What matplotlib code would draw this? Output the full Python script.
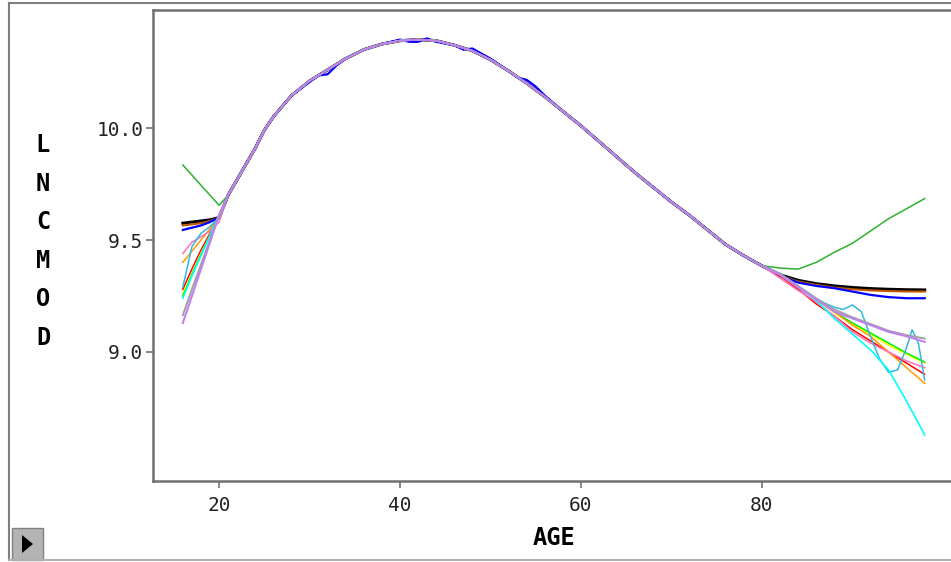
import matplotlib
matplotlib.use("Agg")
import matplotlib.pyplot as plt
from matplotlib.lines import Line2D
from matplotlib.patches import Rectangle, Polygon

# shared middle part of the smoothed curves
BASE_AGE = [21, 22, 23, 24, 25, 26, 28, 30, 32, 34, 36, 38, 40, 42, 44, 46, 48,
            50, 52, 54, 56, 58, 60, 62, 64, 66, 68, 70, 72, 74, 76, 78, 80]
BASE_LNC = [9.70, 9.77, 9.84, 9.91, 9.99, 10.05, 10.145, 10.21, 10.26, 10.31,
            10.35, 10.375, 10.39, 10.395, 10.39, 10.37, 10.345, 10.305, 10.255,
            10.20, 10.14, 10.075, 10.01, 9.94, 9.87, 9.80, 9.735, 9.67, 9.61,
            9.545, 9.48, 9.43, 9.385]

# blue has its own, slightly noisy middle part
BLUE_MID_AGE = [21, 22, 23, 24, 25, 26, 28, 30, 31, 32, 33, 34, 36, 38, 40, 41,
                42, 43, 44, 46, 47, 48, 50, 52, 53, 54, 55, 56, 58, 60, 62, 64,
                66, 68, 70, 72, 74, 76, 78, 80]
BLUE_MID = [9.70, 9.77, 9.84, 9.91, 9.99, 10.05, 10.145, 10.205, 10.235, 10.24,
            10.28, 10.31, 10.35, 10.375, 10.395, 10.385, 10.385, 10.40, 10.385,
            10.37, 10.35, 10.355, 10.31, 10.255, 10.225, 10.215, 10.185, 10.145,
            10.075, 10.01, 9.94, 9.87, 9.80, 9.735, 9.67, 9.61, 9.545, 9.48,
            9.43, 9.385]

HEAD_AGE = [16, 17, 18, 19, 20]
TAIL_AGE = [82, 84, 86, 88, 90, 92, 94, 96, 98]
LBLUE_TAIL_AGE = [82, 84, 86, 88, 89, 90, 91, 92, 93, 94, 95, 96, 96.6, 97.3, 98]

BLACK_HEAD = [9.575, 9.58, 9.585, 9.59, 9.60]
BLACK_TAIL = [9.345, 9.32, 9.305, 9.295, 9.288, 9.283, 9.28, 9.278, 9.277]
BROWN_HEAD = [9.565, 9.57, 9.575, 9.585, 9.60]
BROWN_TAIL = [9.34, 9.315, 9.30, 9.288, 9.28, 9.275, 9.272, 9.27, 9.27]
BLUE_HEAD = [9.545, 9.555, 9.565, 9.58, 9.60]
BLUE_TAIL = [9.34, 9.31, 9.295, 9.285, 9.27, 9.255, 9.245, 9.24, 9.24]
GREEN_HEAD = [9.835, 9.79, 9.745, 9.70, 9.655]
GREEN_TAIL = [9.375, 9.37, 9.40, 9.445, 9.485, 9.54, 9.595, 9.64, 9.685]
RED_HEAD = [9.28, 9.37, 9.455, 9.53, 9.61]
RED_TAIL = [9.34, 9.28, 9.215, 9.16, 9.10, 9.05, 9.00, 8.95, 8.90]
YELLOW_HEAD = [9.26, 9.35, 9.44, 9.52, 9.61]
YELLOW_TAIL = [9.345, 9.29, 9.235, 9.175, 9.125, 9.08, 9.03, 8.99, 8.95]
LIME_HEAD = [9.25, 9.345, 9.435, 9.52, 9.61]
LIME_TAIL = [9.345, 9.29, 9.235, 9.18, 9.13, 9.085, 9.04, 8.995, 8.955]
ORANGE_HEAD = [9.40, 9.45, 9.50, 9.55, 9.60]
ORANGE_TAIL = [9.345, 9.29, 9.235, 9.18, 9.12, 9.07, 9.00, 8.93, 8.86]
PINK_HEAD = [9.44, 9.49, 9.515, 9.54, 9.58]
PINK_TAIL = [9.33, 9.275, 9.225, 9.16, 9.09, 9.04, 9.00, 8.96, 8.93]
LBLUE_HEAD = [9.29, 9.47, 9.53, 9.56, 9.60]
LBLUE_TAIL = [9.35, 9.29, 9.235, 9.20, 9.19, 9.21, 9.18, 9.07, 8.97, 8.91,
              8.92, 9.02, 9.10, 9.04, 8.875]
CYAN_HEAD = [9.24, 9.34, 9.43, 9.52, 9.61]
CYAN_TAIL = [9.35, 9.29, 9.23, 9.15, 9.08, 9.01, 8.92, 8.78, 8.63]
GRAY_HEAD = [9.165, 9.28, 9.39, 9.50, 9.61]
GRAY_TAIL = [9.35, 9.295, 9.24, 9.19, 9.155, 9.125, 9.095, 9.075, 9.06]
VIOLET_HEAD = [9.13, 9.25, 9.37, 9.49, 9.61]
VIOLET_TAIL = [9.345, 9.29, 9.235, 9.18, 9.15, 9.12, 9.09, 9.07, 9.045]

X_TICKS = [20, 40, 60, 80]
Y_TICKS = [9.0, 9.5, 10.0]
Y_TICK_LABELS = ["9.0", "9.5", "10.0"]

W, H = 951, 562
fig = plt.figure(figsize=(W / 100, H / 100), dpi=100)
ax = fig.add_axes([153 / W, 1 - 481 / H, (960 - 153) / W, 471 / H])

# (head, mid ages, mid values, tail ages, tail, colour, width)
series = [
    (BLACK_HEAD, BASE_AGE, BASE_LNC, TAIL_AGE, BLACK_TAIL, "#000000", 2.2),
    (BROWN_HEAD, BASE_AGE, BASE_LNC, TAIL_AGE, BROWN_TAIL, "#c05800", 1.5),
    (BLUE_HEAD, BLUE_MID_AGE, BLUE_MID, TAIL_AGE, BLUE_TAIL, "#0000ff", 1.6),
    (GREEN_HEAD, BASE_AGE, BASE_LNC, TAIL_AGE, GREEN_TAIL, "#30b030", 1.1),
    (RED_HEAD, BASE_AGE, BASE_LNC, TAIL_AGE, RED_TAIL, "#ff0000", 1.1),
    (YELLOW_HEAD, BASE_AGE, BASE_LNC, TAIL_AGE, YELLOW_TAIL, "#ffff00", 1.1),
    (LIME_HEAD, BASE_AGE, BASE_LNC, TAIL_AGE, LIME_TAIL, "#00ee00", 1.1),
    (ORANGE_HEAD, BASE_AGE, BASE_LNC, TAIL_AGE, ORANGE_TAIL, "#ff9900", 1.1),
    (PINK_HEAD, BASE_AGE, BASE_LNC, TAIL_AGE, PINK_TAIL, "#ff70b8", 1.1),
    (LBLUE_HEAD, BASE_AGE, BASE_LNC, LBLUE_TAIL_AGE, LBLUE_TAIL, "#30b8e0", 1.1),
    (CYAN_HEAD, BASE_AGE, BASE_LNC, TAIL_AGE, CYAN_TAIL, "#00ffff", 1.2),
    (GRAY_HEAD, BASE_AGE, BASE_LNC, TAIL_AGE, GRAY_TAIL, "#a0a0a0", 1.4),
    (VIOLET_HEAD, BASE_AGE, BASE_LNC, TAIL_AGE, VIOLET_TAIL, "#c080f0", 1.5),
]
for head, mid_x, mid_y, tail_x, tail, color, lw in series:
    xs = HEAD_AGE + mid_x + tail_x
    ys = head + mid_y + tail
    ax.plot(xs, ys, color=color, lw=lw, solid_joinstyle="miter")

ax.set_xlim(12.7, 101.9)
ax.set_ylim(8.424, 10.527)
ax.set_xticks(X_TICKS)
ax.set_xticklabels([str(t) for t in X_TICKS])
ax.set_yticks(Y_TICKS)
ax.set_yticklabels(Y_TICK_LABELS)

mono = "DejaVu Sans Mono"
ax.tick_params(axis="both", direction="out", length=5, width=1.2,
               color="#707070", labelsize=14, labelcolor="#222222")
ax.tick_params(axis="x", pad=6)
ax.tick_params(axis="y", pad=2)
for lab in ax.get_xticklabels() + ax.get_yticklabels():
    lab.set_family(mono)
for s in ax.spines.values():
    s.set_color("#707070")
    s.set_linewidth(1.8)

# axis titles in the old pixel-font style
fig.text(554 / W, 1 - 538 / H, "AGE", family=mono, weight="bold",
         fontsize=17, ha="center", va="center")
for i, ch in enumerate("LNCMOD"):
    fig.text(43 / W, 1 - (145 + i * 38.6) / H, ch, family=mono,
             weight="bold", fontsize=17, ha="center", va="center")

# outer panel frame and the small play button
gray = "#808080"
fig.add_artist(Line2D([9 / W, 1.0], [1 - 3 / H, 1 - 3 / H], color=gray,
                      lw=1.5, transform=fig.transFigure))
fig.add_artist(Line2D([9 / W, 9 / W], [1 - 3 / H, 1 - 560 / H], color=gray,
                      lw=1.5, transform=fig.transFigure))
fig.add_artist(Line2D([9 / W, 1.0], [1 - 560 / H, 1 - 560 / H], color="#b0b0b0",
                      lw=1.5, transform=fig.transFigure))
fig.add_artist(Rectangle((12 / W, 1 - 560 / H), 31 / W, 32 / H,
                         facecolor="#b4b4b4", edgecolor="#808080", lw=1,
                         transform=fig.transFigure))
fig.add_artist(Polygon([(22 / W, 1 - 535 / H), (22 / W, 1 - 553 / H),
                        (33 / W, 1 - 544 / H)], closed=True,
                       facecolor="#000000", edgecolor="none",
                       transform=fig.transFigure))

fig.savefig("out.png", dpi=100)
